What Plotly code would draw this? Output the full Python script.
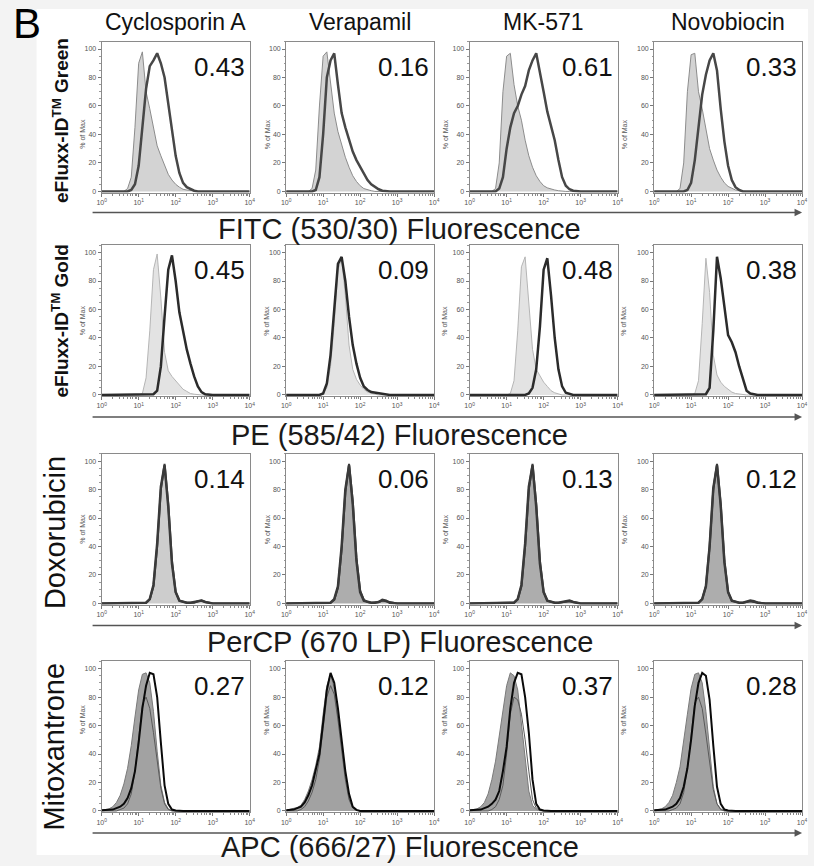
import plotly.graph_objects as go

W, H = 814, 866

# ---------------- data ----------------
DRUGS = ["Cyclosporin A", "Verapamil", "MK-571", "Novobiocin"]
DYES = ["<b>eFluxx-ID<sup>TM</sup> Green</b>", "<b>eFluxx-ID<sup>TM</sup> Gold</b>",
        "Doxorubicin", "Mitoxantrone"]
CHANNELS = ["FITC (530/30) Fluorescence", "PE (585/42) Fluorescence",
            "PerCP (670 LP) Fluorescence", "APC (666/27) Fluorescence"]
RATIOS = [["0.43", "0.16", "0.61", "0.33"],
          ["0.45", "0.09", "0.48", "0.38"],
          ["0.14", "0.06", "0.13", "0.12"],
          ["0.27", "0.12", "0.37", "0.28"]]

# log10 of fluorescence intensity (bin centres)
LOG_FL = [0.0, 0.1, 0.2, 0.3, 0.4, 0.5, 0.6, 0.7, 0.8, 0.9, 1.0, 1.1, 1.2, 1.3, 1.4, 1.5,
          1.6, 1.7, 1.8, 1.9, 2.0, 2.1, 2.2, 2.3, 2.4, 2.5, 2.6, 2.7, 2.8, 2.9, 3.0, 4.0]

X_TICK_VALS = [1, 10, 100, 1000, 10000]
X_TICK_TEXT = ["10<sup>0</sup>", "10<sup>1</sup>", "10<sup>2</sup>", "10<sup>3</sup>", "10<sup>4</sup>"]
Y_TICK_VALS = [0, 20, 40, 60, 80, 100]

# % of Max, control (filled) and treated (line) histograms
C11 = [0,0,0,0,0,0,0,2,10,45,90,98,70,58,44,32,25,18,12,8,5,3,1.5,1,0.5,0.3,0,0,0,0,0,0]
T11 = [0,0,0,0,0,0,0,0,1,5,18,45,72,88,92,97,90,80,62,42,25,13,6,3,1.5,0.5,0,0,0,0,0,0]
C12 = [0,0,0,0,0,0,0,2,15,60,95,98,78,55,42,32,24,17,11,7,4,2,1,0.5,0,0,0,0,0,0,0,0]
T12 = [0,0,0,0,0,0,0,0,1,10,40,80,92,97,75,55,45,36,28,22,17,12,8,5,3,1.5,0.5,0,0,0,0,0]
C13 = [0,0,0,0,0,0,0,2,20,70,95,97,75,60,50,36,25,17,11,7,4,2.5,1.5,1,0.5,0,0,0,0,0,0,0]
T13 = [0,0,0,0,0,0,0,0,2,10,30,45,55,60,68,74,85,92,97,82,70,56,45,36,22,10,4,1.5,0.5,0,0,0]
C14 = [0,0,0,0,0,0,0,2,20,70,96,97,70,58,45,30,22,15,10,6,3.5,2,1,0.5,0,0,0,0,0,0,0,0]
T14 = [0,0,0,0,0,0,0,0,0,1,6,22,45,68,82,92,97,85,58,35,18,8,3,1,0,0,0,0,0,0,0,0]

C21 = [0,0,0,0,0,0,0,0,0,0,0,1,12,45,88,99,68,30,17,13,10,7,4,2.5,1,0.5,0,0,0,0,0,0]
T21 = [0,0,0,0,0,0,0,0,0,0,0,0,0,0,0.5,3,20,55,88,98,80,58,45,32,22,13,6,2,0.5,0,0,0]
C22 = [0,0,0,0,0,0,0,0,0,0,1,5,20,50,88,96,70,35,18,11,7,4,2,1,0.5,0,0,0,0,0,0,0]
T22 = [0,0,0,0,0,0,0,0,0,0,1,8,28,62,92,97,80,55,35,22,12,6,3.5,2,1.5,1,0.5,0,0,0,0,0]
C23 = [0,0,0,0,0,0,0,0,0,0,0,1,10,45,90,97,65,32,18,13,9,6,3,1.5,0.5,0,0,0,0,0,0,0]
T23 = [0,0,0,0,0,0,0,0,0,0,0,0,0,0,0,0,1,5,18,48,88,96,70,40,18,6,1.5,0.5,0,0,0,0]
C24 = [0,0,0,0,0,0,0,0,0,0,0,1,10,50,96,72,28,14,9,6,4,2,1,0.5,0,0,0,0,0,0,0,0]
T24 = [0,0,0,0,0,0,0,0,0,0,0,0,0,0,0.5,5,45,97,82,62,42,37,30,20,11,3,1,0.3,0,0,0,0]

C31 = [0,0,0,0,0,0,0,0,0,0,0,0,0.5,3,12,40,80,98,70,30,8,2,1,0.5,0.5,0.5,1.5,2,1,0.3,0,0]
T31 = [0,0,0,0,0,0,0,0,0,0,0,0,0.5,3,13,42,82,97,68,28,8,2,1,0.5,0.5,1,2,2,1,0.3,0,0]
C32 = [0,0,0,0,0,0,0,0,0,0,0,0,0.5,2.5,11,38,78,98,72,32,9,2.5,1,0.5,0.5,1,2,1.5,0.5,0.2,0,0]
T32 = [0,0,0,0,0,0,0,0,0,0,0,0,0.5,3,12,40,80,97,70,30,8,2,1,0.5,0.5,1,2.5,2,0.5,0.2,0,0]
C33 = [0,0,0,0,0,0,0,0,0,0,0,0,0.5,3,12,40,80,98,70,30,8,2,1,0.5,0.5,1,1.5,1.5,1,0.3,0,0]
T33 = [0,0,0,0,0,0,0,0,0,0,0,0,0.5,3,13,42,82,97,68,28,8,2,1,0.5,0.5,1,2,2,1,0.3,0,0]
C34 = [0,0,0,0,0,0,0,0,0,0,0,0,0.5,3,12,40,80,98,70,30,8,2,1,0.5,0.5,1,1.5,1,0.5,0.2,0,0]
T34 = [0,0,0,0,0,0,0,0,0,0,0,0,0.5,3,12,40,81,97,69,29,8,2,1,0.5,0.5,1,2,1.5,0.5,0.2,0,0]

C41 = [0.5,1,1.5,3,6,11,19,30,46,66,85,96,97,90,70,42,18,6,1.5,0.3,0,0,0,0,0,0,0,0,0,0,0,0]
T41 = [0.5,0.5,1,1,2,3,5,9,16,28,48,72,88,97,96,80,48,18,5,1,0.3,0,0,0,0,0,0,0,0,0,0,0]
M41 = [0,0,0,0,0,1,2,5,12,28,52,75,80,72,55,36,16,5,1,0,0,0,0,0,0,0,0,0,0,0,0,0]
C42 = [0.5,1,1.5,2.5,4,8,14,22,32,45,68,88,96,86,66,44,24,9,2.5,0.5,0,0,0,0,0,0,0,0,0,0,0,0]
T42 = [0.5,0.8,1,2,3,6,11,18,28,40,62,85,97,90,72,50,28,12,3,0.8,0,0,0,0,0,0,0,0,0,0,0,0]
M42 = [0,0,0,0,1,3,7,13,22,36,58,80,88,82,64,42,22,8,2,0.5,0,0,0,0,0,0,0,0,0,0,0,0]
C43 = [0.5,1,1.5,3,6,12,22,35,52,70,88,97,95,85,62,38,14,4,1,0.2,0,0,0,0,0,0,0,0,0,0,0,0]
T43 = [0.5,0.5,1,1,2,3,5,8,14,28,45,72,90,97,96,80,55,22,5,1,0.3,0,0,0,0,0,0,0,0,0,0,0]
M43 = [0,0,0,0,0,0,1,3,8,18,40,68,80,78,68,50,28,8,2,0.5,0,0,0,0,0,0,0,0,0,0,0,0]
C44 = [0.5,1,1.5,3,6,11,20,31,48,68,86,96,97,90,70,42,17,5,1.5,0.3,0,0,0,0,0,0,0,0,0,0,0,0]
T44 = [0.5,0.5,1,1,2,3,5,9,17,30,50,74,90,97,95,78,46,17,5,1,0.3,0,0,0,0,0,0,0,0,0,0,0]
M44 = [0,0,0,0,0,1,2,5,13,30,54,76,80,72,54,34,15,5,1,0,0,0,0,0,0,0,0,0,0,0,0,0]

CONTROL = [[C11, C12, C13, C14], [C21, C22, C23, C24], [C31, C32, C33, C34], [C41, C42, C43, C44]]
TREATED = [[T11, T12, T13, T14], [T21, T22, T23, T24], [T31, T32, T33, T34], [T41, T42, T43, T44]]
EXTRA = [[None] * 4, [None] * 4, [None] * 4, [M41, M42, M43, M44]]

# ---------------- layout geometry (px) ----------------
PANEL_LEFT = [98, 285, 471, 658]
PANEL_W = 150
PANEL_TOP = [42, 246, 455, 663]
PANEL_H = 151
ARROW_Y = [213, 418, 627, 835]
TITLE_Y = [230, 436, 643, 849]
ROW_LABEL = [(56, 121), (56, 322), (50, 534), (50, 748)]

ROW_STYLE = [
    dict(fill="#d3d3d3", fline="#8c8c8c", fw=1, tc="#474747", tw=2.5),
    dict(fill="#e3e3e3", fline="#b5b5b5", fw=1, tc="#2b2b2b", tw=2.5),
    dict(fill="#adadad", fline="#3a3a3a", fw=2, tc="#3a3a3a", tw=2.5),
    dict(fill="#a2a2a2", fline="#7a7a7a", fw=1, tc="#0a0a0a", tw=2),
]

FONT = "Liberation Sans, Arial, Helvetica, sans-serif"


def px(x):
    return x / W


def py(y):
    return 1 - y / H


xfl = [10 ** v for v in LOG_FL]
minor_x = [m * d for d in (1, 10, 100, 1000) for m in range(2, 10)]

fig = go.Figure()
layout = {}
annotations = []

for r in range(4):
    st = ROW_STYLE[r]
    for c in range(4):
        k = r * 4 + c + 1
        xa = "x" if k == 1 else f"x{k}"
        ya = "y" if k == 1 else f"y{k}"
        fillc = st["fill"]
        if r == 2 and c == 0:
            fillc = "#cdcdcd"
        fig.add_trace(go.Scatter(x=xfl, y=CONTROL[r][c], mode="lines", fill="tozeroy",
                                 fillcolor=fillc, line=dict(color=st["fline"], width=st["fw"]),
                                 xaxis=xa, yaxis=ya, showlegend=False, hoverinfo="skip"))
        if EXTRA[r][c] is not None:
            fig.add_trace(go.Scatter(x=xfl, y=EXTRA[r][c], mode="lines",
                                     line=dict(color="#5a5a5a", width=1),
                                     xaxis=xa, yaxis=ya, showlegend=False, hoverinfo="skip"))
        fig.add_trace(go.Scatter(x=xfl, y=TREATED[r][c], mode="lines",
                                 line=dict(color=st["tc"], width=st["tw"]),
                                 xaxis=xa, yaxis=ya, showlegend=False, hoverinfo="skip"))

        left, top = PANEL_LEFT[c], PANEL_TOP[r]
        xkey = "xaxis" if k == 1 else f"xaxis{k}"
        ykey = "yaxis" if k == 1 else f"yaxis{k}"
        layout[xkey] = dict(
            domain=[px(left), px(left + PANEL_W)], anchor=ya, type="log", range=[0, 4],
            tickmode="array", tickvals=X_TICK_VALS, ticktext=X_TICK_TEXT,
            ticks="outside", ticklen=3, tickcolor="#777", tickwidth=1,
            tickfont=dict(size=7, color="#555", family=FONT),
            showline=True, linecolor="#8a8a8a", linewidth=1, mirror=True,
            showgrid=False, zeroline=False, fixedrange=True,
            minor=dict(tickmode="array", tickvals=minor_x, ticks="outside", ticklen=2,
                       tickcolor="#888", showgrid=False),
        )
        layout[ykey] = dict(
            domain=[py(top + PANEL_H), py(top)], anchor=xa, range=[-0.8, 105],
            tickmode="array", tickvals=Y_TICK_VALS,
            ticks="outside", ticklen=3, tickcolor="#777", tickwidth=1,
            tickfont=dict(size=7, color="#555", family=FONT),
            showline=True, linecolor="#8a8a8a", linewidth=1, mirror=True,
            showgrid=False, zeroline=False, fixedrange=True,
            minor=dict(dtick=5, ticks="outside", ticklen=1.5, tickcolor="#999", showgrid=False),
        )
        # % of Max
        annotations.append(dict(x=px(left - 25), y=py(top + PANEL_H / 2), xref="paper", yref="paper",
                                text="% of Max", textangle=-90, showarrow=False,
                                font=dict(size=7, color="#555", family=FONT)))
        # ratio value
        annotations.append(dict(x=px(left + PANEL_W - 3), y=py(top + 25), xref="paper", yref="paper",
                                text=RATIOS[r][c], showarrow=False, xanchor="right", yanchor="middle",
                                font=dict(size=26, color="#111", family=FONT)))

    # row label
    lx, ly = ROW_LABEL[r]
    size = 19 if r < 2 else 29
    annotations.append(dict(x=px(lx), y=py(ly), xref="paper", yref="paper", text=DYES[r],
                            textangle=-90, showarrow=False, xanchor="center", yanchor="middle",
                            font=dict(size=size, color="#111", family=FONT)))
    # channel arrow
    annotations.append(dict(x=px(808), y=py(ARROW_Y[r]), xref="paper", yref="paper", text="",
                            showarrow=True, ax=-(808 - 97), ay=0, arrowhead=2, arrowsize=1,
                            arrowwidth=1.5, arrowcolor="#555"))
    annotations.append(dict(x=px(400), y=py(TITLE_Y[r]), xref="paper", yref="paper", text=CHANNELS[r],
                            showarrow=False, xanchor="center", yanchor="middle",
                            font=dict(size=29, color="#1a1a1a", family=FONT)))

# column headers
for c in range(4):
    annotations.append(dict(x=px(PANEL_LEFT[c] + PANEL_W / 2), y=py(22), xref="paper", yref="paper",
                            text=DRUGS[c], showarrow=False, xanchor="center", yanchor="middle",
                            font=dict(size=23, color="#111", family=FONT)))

# panel letter
annotations.append(dict(x=px(22), y=py(24), xref="paper", yref="paper", text="B", showarrow=False,
                        xanchor="center", yanchor="middle", font=dict(size=42, color="#000", family=FONT)))

fig.update_layout(
    width=W, height=H, margin=dict(l=0, r=0, t=0, b=0),
    paper_bgcolor="#f3f3f3", plot_bgcolor="white",
    font=dict(family=FONT),
    annotations=annotations,
    shapes=[dict(type="rect", xref="paper", yref="paper", x0=px(32), x1=1.0, y0=py(857), y1=py(9),
                 fillcolor="white", line=dict(width=0), layer="below")],
    **layout,
)

fig.write_html("out.html", config={"displayModeBar": False},
               post_script="document.body.style.margin='0px';document.body.style.overflow='hidden';")
